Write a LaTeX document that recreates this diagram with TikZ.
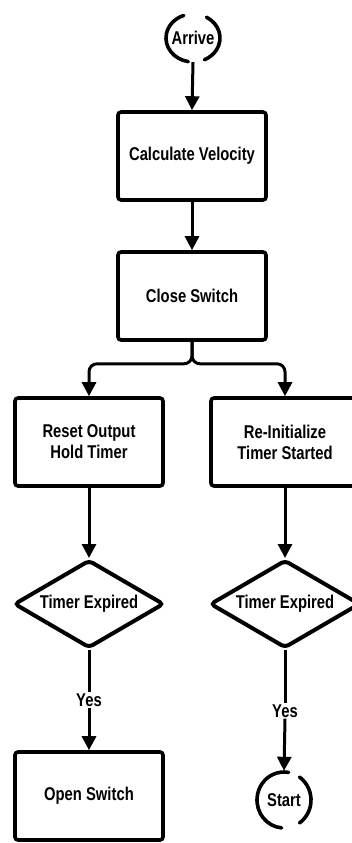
\documentclass[tikz,border=0pt]{standalone}
\usepackage{fontspec}
\setmainfont{Liberation Sans}[FakeStretch=0.8]
\usetikzlibrary{shapes.geometric,arrows.meta}
\tikzset{
  txt/.style={font=\bfseries\fontsize{18.5}{21}\selectfont},
  stepbox/.style={txt, draw=black, line width=3.6pt, rounded corners=3pt, fill=white,
    minimum width=148pt, minimum height=88pt, align=center},
  decide/.style={draw=black, line width=4pt, diamond, rounded corners=4pt, fill=white,
    minimum width=150pt, minimum height=88pt, inner sep=0pt},
  term/.style={txt, circle, inner sep=0pt},
  arc/.style={line width=3.6pt, line cap=round},
  flow/.style={line width=3pt, -{Triangle[length=14pt,width=14pt]}},
  plain/.style={line width=3pt},
  lbl/.style={txt, inner sep=1pt}
}
\begin{document}
\begin{tikzpicture}[x=1pt,y=-1pt]
\useasboundingbox (0,0) rectangle (352,843);

% terminators
\node[term, minimum size=48pt] (arrive) at (193,38) {Arrive};
\draw[arc] (arrive.center) ++(100:27 and 24) arc[start angle=100, end angle=250, x radius=27, y radius=24];
\draw[arc] (arrive.center) ++(-60:27 and 24) arc[start angle=-60, end angle=65, x radius=27, y radius=24];

% process boxes
\node[stepbox] (calc) at (192,156) {Calculate Velocity};
\node[stepbox] (close) at (192,296) {Close Switch};
\node[stepbox] (reset) at (89,442) {Reset Output\\Hold Timer};
\node[stepbox] (reinit) at (285,442) {Re-Initialize\\Timer Started};

% decisions (fixed size, label set on top)
\node[decide, label={[txt]center:Timer Expired}] (expL) at (89,604) {};
\node[decide, label={[txt]center:Timer Expired}] (expR) at (285,604) {};

% outcomes
\node[lbl] (yesL) at (89,700) {Yes};
\node[lbl] (yesR) at (285,711) {Yes};
\node[stepbox] (open) at (89,796) {Open Switch};
\node[term, minimum size=58pt] (start) at (284,800) {Start};
\draw[arc] (start.center) ++(95:27 and 28) arc[start angle=95, end angle=280, x radius=27, y radius=28];
\draw[arc] (start.center) ++(-55:27 and 28) arc[start angle=-55, end angle=55, x radius=27, y radius=28];

% connectors
\draw[flow] (arrive.south) -- (calc.north);
\draw[flow] (calc.south) -- (close.north);
\draw[flow, rounded corners=8pt] (close.south) -- ++(0,22) -| (reset.north);
\draw[flow, rounded corners=8pt] (close.south) -- ++(0,22) -| (reinit.north);
\draw[flow] (reset.south) -- (expL.north);
\draw[flow] (reinit.south) -- (expR.north);
\draw[plain] (expL.south) -- (yesL.north);
\draw[flow] (yesL.south) -- (open.north);
\draw[plain] (expR.south) -- (yesR.north);
\draw[flow] (yesR.south) -- (start.north);
\end{tikzpicture}
\end{document}
